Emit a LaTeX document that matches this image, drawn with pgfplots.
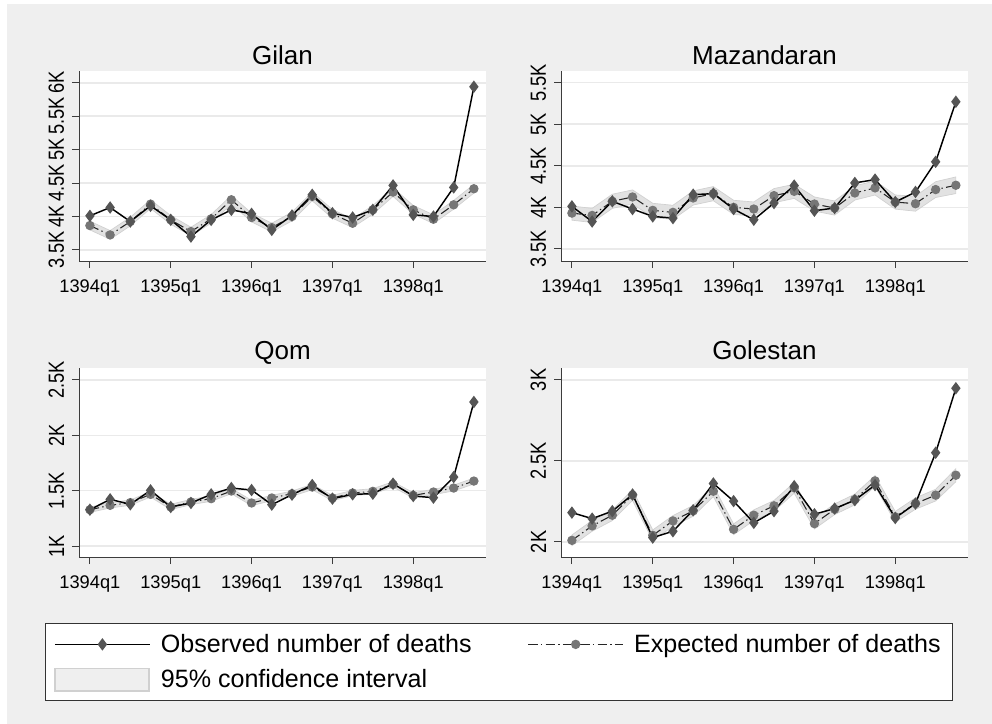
\documentclass[border=0pt]{standalone}
\usepackage{pgfplots}
\pgfplotsset{compat=1.18}
\usepackage{pgfplotstable}
\usepackage{fontspec}
\setmainfont{Liberation Sans}
\definecolor{bg}{RGB}{239,239,239}
\definecolor{gridc}{RGB}{234,234,234}
\definecolor{bandf}{RGB}{226,226,226}
\definecolor{bande}{RGB}{208,208,208}
\definecolor{obsm}{RGB}{85,85,85}
\definecolor{expm}{RGB}{118,118,118}
\definecolor{axc}{RGB}{60,60,60}

\pgfplotstableread{
x obs exp
0 4010 3865
1 4135 3725
2 3925 3925
3 4160 4185
4 3950 3950
5 3700 3775
6 3950 3965
7 4100 4250
8 4040 3985
9 3800 3835
10 4015 4000
11 4325 4300
12 4050 4040
13 3985 3900
14 4100 4100
15 4465 4365
16 4025 4100
17 4000 3960
18 4435 4175
19 5940 4415
}\gilan

\pgfplotstableread{
x obs exp
0 4012 3931
1 3830 3903
2 4073 4073
3 3980 4125
4 3891 3964
5 3871 3940
6 4153 4113
7 4165 4165
8 3980 4000
9 3851 3980
10 4052 4141
11 4262 4193
12 3960 4040
13 3992 3992
14 4294 4173
15 4334 4234
16 4064 4064
17 4185 4044
18 4548 4214
19 5270 4266
}\mazan

\pgfplotstableread{
x obs exp
0 1328 1328
1 1422 1368
2 1377 1392
3 1503 1467
4 1353 1353
5 1389 1398
6 1467 1428
7 1524 1497
8 1506 1389
9 1374 1434
10 1464 1473
11 1551 1533
12 1428 1434
13 1467 1479
14 1473 1494
15 1563 1557
16 1452 1458
17 1437 1488
18 1623 1524
19 2301 1587
}\qom

\pgfplotstableread{
x obs exp
0 2181 2010
1 2144 2099
2 2190 2165
3 2293 2289
4 2027 2041
5 2066 2130
6 2196 2192
7 2361 2313
8 2252 2078
9 2118 2165
10 2190 2223
11 2344 2334
12 2171 2113
13 2206 2202
14 2258 2262
15 2351 2377
16 2148 2155
17 2237 2237
18 2551 2289
19 2949 2412
}\golestan

\pgfplotsset{
  panel/.style={
    scale only axis, width=305.25pt, height=142pt,
    xmin=-0.54, xmax=19.6,
    xtick={0,4,8,12,16},
    xticklabels={1394q1,1395q1,1396q1,1397q1,1398q1},
    axis x line*=bottom, axis y line*=left,
    x axis line style={-, line width=0.75pt, color=axc},
    y axis line style={-, line width=0.75pt, color=axc},
    tick align=outside, major tick length=5.25pt,
    tick style={color=axc, line width=0.75pt},
    ymajorgrids, grid style={gridc, line width=1.2pt},
    axis background/.style={fill=white},
    ticklabel style={font=\fontsize{13.7pt}{16pt}\selectfont, text=black},
    xticklabel style={yshift=-5.6pt},
    yticklabel style={rotate=90, anchor=south, yscale=1.2, inner ysep=4.8pt},
    title style={at={(0.5,1)}, anchor=base, yshift=-1pt, font=\fontsize{19.5pt}{22pt}\selectfont},
  },
  obsstyle/.style={black, line width=1.1pt, mark=diamond*, mark size=3.8pt, mark options={solid, fill=obsm, draw=obsm}},
  expstyle/.style={black!85, line width=0.8pt, dash pattern=on 7pt off 2.5pt on 1pt off 2.5pt, mark=*, mark size=3.1pt, mark options={solid, fill=expm, draw=expm}},
  bandstyle/.style={fill=bandf, draw=bande, line width=0.5pt, forget plot},
  longline legend/.style={legend image code/.code={\draw[mark repeat=2, mark phase=2, ##1] plot coordinates {(0pt,0pt) (35.6pt,0pt) (71.25pt,0pt)}; \path (77pt,0pt);}},
  box legend/.style={legend image code/.code={\draw[##1] (0pt,-8.5pt) rectangle (70.5pt,8.5pt); \path (77pt,0pt);}},
}

\begin{document}
\begin{tikzpicture}
\useasboundingbox (0,0) rectangle (744pt,-543pt);
\fill[white] (0,0) rectangle (744pt,-543pt);
\fill[bg] (5.25pt,-3pt) rectangle (744pt,-543pt);

\begin{axis}[panel, at={(59.25pt,-195.75pt)}, anchor=south west, height=142.5pt,
  title={Gilan}, ymin=3335, ymax=6175,
  ytick={3500,4000,4500,5000,5500,6000},
  yticklabels={3.5K,4K,4.5K,5K,5.5K,6K}]
\addplot[bandstyle] coordinates {(0,3930) (1,3790) (2,3990) (3,4250) (4,4015) (5,3840) (6,4030) (7,4315) (8,4050) (9,3900) (10,4065) (11,4365) (12,4105) (13,3965) (14,4165) (15,4430) (16,4165) (17,4025) (18,4240) (19,4480)
 (19,4350) (18,4110) (17,3895) (16,4035) (15,4300) (14,4035) (13,3835) (12,3975) (11,4235) (10,3935) (9,3770) (8,3920) (7,4185) (6,3900) (5,3710) (4,3885) (3,4120) (2,3860) (1,3660) (0,3800)} -- cycle;
\addplot[expstyle, forget plot] table[x=x,y=exp]{\gilan};
\addplot[obsstyle, forget plot] table[x=x,y=obs]{\gilan};
\end{axis}

\begin{axis}[panel, at={(420.75pt,-195.75pt)}, anchor=south west, height=142.5pt,
  title={Mazandaran}, ymin=3355, ymax=5640,
  ytick={3500,4000,4500,5000,5500},
  yticklabels={3.5K,4K,4.5K,5K,5.5K}]
\addplot[bandstyle] coordinates {(0,4016) (1,3988) (2,4158) (3,4210) (4,4049) (5,4025) (6,4198) (7,4250) (8,4085) (9,4065) (10,4226) (11,4278) (12,4125) (13,4077) (14,4258) (15,4319) (16,4149) (17,4134) (18,4309) (19,4366)
 (19,4166) (18,4119) (17,3954) (16,3979) (15,4149) (14,4088) (13,3907) (12,3955) (11,4108) (10,4056) (9,3895) (8,3915) (7,4080) (6,4028) (5,3855) (4,3879) (3,4040) (2,3988) (1,3818) (0,3846)} -- cycle;
\addplot[expstyle, forget plot] table[x=x,y=exp]{\mazan};
\addplot[obsstyle, forget plot] table[x=x,y=obs]{\mazan};
\end{axis}

\begin{axis}[panel, at={(59.25pt,-417.75pt)}, anchor=south west, height=141.4pt,
  title={Qom}, ymin=901, ymax=2604,
  title style={yshift=1.5pt},
  ytick={1000,1500,2000,2500},
  yticklabels={1K,1.5K,2K,2.5K},
  legend columns=2, legend cell align=left,
  legend style={at={(-0.0835,-0.350)}, anchor=north west, draw=black!80,
    line width=0.75pt, fill=white, font=\fontsize{18.8pt}{22pt}\selectfont,
    inner xsep=6.5pt, inner ysep=6.1pt, row sep=7.5pt,
    /tikz/every even column/.append style={column sep=40pt}}]
\addplot[bandstyle] coordinates {(0,1352) (1,1392) (2,1416) (3,1491) (4,1377) (5,1422) (6,1452) (7,1521) (8,1413) (9,1458) (10,1497) (11,1557) (12,1458) (13,1503) (14,1518) (15,1581) (16,1482) (17,1512) (18,1550) (19,1614)
 (19,1560) (18,1498) (17,1464) (16,1434) (15,1533) (14,1470) (13,1455) (12,1410) (11,1509) (10,1449) (9,1410) (8,1365) (7,1473) (6,1404) (5,1374) (4,1329) (3,1443) (2,1368) (1,1344) (0,1304)} -- cycle;
\addplot[expstyle, forget plot] table[x=x,y=exp]{\qom};
\addplot[obsstyle, forget plot] table[x=x,y=obs]{\qom};
\addlegendimage{obsstyle, longline legend}
\addlegendentry{Observed number of deaths}
\addlegendimage{expstyle, longline legend}
\addlegendentry{Expected number of deaths}
\addlegendimage{fill=bg, draw=bande, line width=1.1pt, box legend}
\addlegendentry{95\% confidence interval}
\end{axis}

\begin{axis}[panel, at={(420.75pt,-417.75pt)}, anchor=south west, height=141.4pt,
  title={Golestan}, ymin=1907, ymax=3071,
  title style={yshift=1.5pt},
  ytick={2000,2500,3000},
  yticklabels={2K,2.5K,3K}]
\addplot[bandstyle] coordinates {(0,2043) (1,2132) (2,2198) (3,2322) (4,2074) (5,2163) (6,2225) (7,2346) (8,2111) (9,2198) (10,2256) (11,2367) (12,2146) (13,2235) (14,2295) (15,2410) (16,2188) (17,2272) (18,2325) (19,2452)
 (19,2372) (18,2253) (17,2202) (16,2122) (15,2344) (14,2229) (13,2169) (12,2080) (11,2301) (10,2190) (9,2132) (8,2045) (7,2280) (6,2159) (5,2097) (4,2008) (3,2256) (2,2132) (1,2066) (0,1977)} -- cycle;
\addplot[expstyle, forget plot] table[x=x,y=exp]{\golestan};
\addplot[obsstyle, forget plot] table[x=x,y=obs]{\golestan};
\end{axis}
\end{tikzpicture}
\end{document}
